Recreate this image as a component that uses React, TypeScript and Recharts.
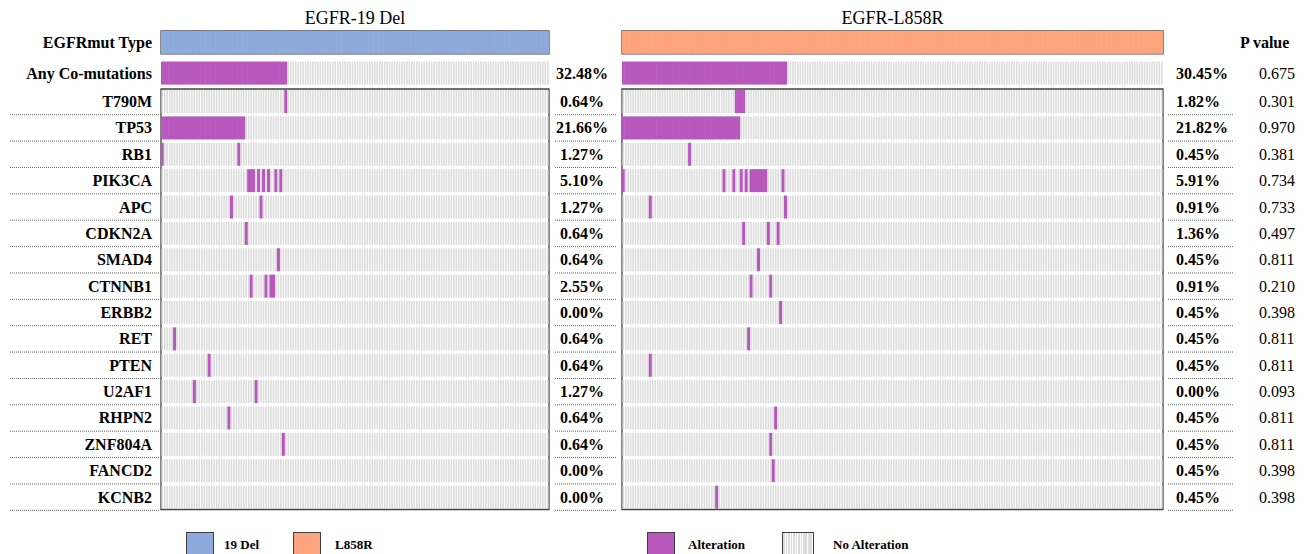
import { ReferenceArea, Scatter, ScatterChart, XAxis, YAxis } from "recharts";

const GENES = [
  "T790M",
  "TP53",
  "RB1",
  "PIK3CA",
  "APC",
  "CDKN2A",
  "SMAD4",
  "CTNNB1",
  "ERBB2",
  "RET",
  "PTEN",
  "U2AF1",
  "RHPN2",
  "ZNF804A",
  "FANCD2",
  "KCNB2",
];

const DEL19_COUNT = 157;
const L858R_COUNT = 220;

// altered samples per gene, as inclusive [first, last] runs in sample order
const DEL19_HITS: [number, number][][] = [
  [[50, 50]],
  [[0, 33]],
  [[0, 0], [31, 31]],
  [[35, 37], [39, 39], [41, 41], [43, 43], [46, 46], [48, 48]],
  [[28, 28], [40, 40]],
  [[34, 34]],
  [[47, 47]],
  [[36, 36], [42, 42], [44, 45]],
  [],
  [[5, 5]],
  [[19, 19]],
  [[13, 13], [38, 38]],
  [[27, 27]],
  [[49, 49]],
  [],
  [],
];

const L858R_HITS: [number, number][][] = [
  [[46, 49]],
  [[0, 47]],
  [[27, 27]],
  [[0, 0], [41, 41], [45, 45], [48, 48], [50, 50], [52, 58], [65, 65]],
  [[11, 11], [66, 66]],
  [[49, 49], [59, 59], [63, 63]],
  [[55, 55]],
  [[52, 52], [60, 60]],
  [[64, 64]],
  [[51, 51]],
  [[11, 11]],
  [],
  [[62, 62]],
  [[60, 60]],
  [[61, 61]],
  [[38, 38]],
];

// Any Co-mutations first, then one per gene
const P_VALUES = [
  "0.675", "0.301", "0.970", "0.381", "0.734", "0.733", "0.497", "0.811", "0.210",
  "0.398", "0.811", "0.811", "0.093", "0.811", "0.811", "0.398", "0.398",
];

const FONT = "'Liberation Serif', 'Times New Roman', serif";
const PURPLE = "#b858bd";
const GRAY = "#dcdcdc";
const DEL_BLUE = "#8eaadc";
const L858R_ORANGE = "#fda47c";
const BORDER = "#404040";

// y axis runs in gene-row units; the two header rows sit above row 0
const ROW_PX = 26.37;
const CELL_H = 23;
const TYPE_ROW = -2.246;
const ANY_ROW = -1.08;
const Y_DOMAIN: [number, number] = [-2.8, 15.5];
const ROWS = [TYPE_ROW, ANY_ROW, ...GENES.map((_, i) => i)];
const MARGIN_TOP = 27.7;
const MARGIN_BOTTOM = 43.7;

const LEFT_PLOT_W = 388;
const RIGHT_PLOT_W = 541;

type CellPoint = { x: number; y: number; kind: "type" | "alt" | "none" };

function expand(runs: [number, number][]) {
  const s = new Set<number>();
  runs.forEach(([a, b]) => {
    for (let i = a; i <= b; i++) s.add(i);
  });
  return s;
}

function buildCells(count: number, hits: [number, number][][]) {
  const geneSets = hits.map(expand);
  const any = new Set<number>();
  geneSets.forEach((s) => s.forEach((i) => any.add(i)));
  const cells: CellPoint[] = [];
  for (let i = 0; i < count; i++) {
    const x = i + 0.5;
    cells.push({ x, y: TYPE_ROW, kind: "type" });
    cells.push({ x, y: ANY_ROW, kind: any.has(i) ? "alt" : "none" });
    geneSets.forEach((s, g) =>
      cells.push({ x, y: g, kind: s.has(i) ? "alt" : "none" })
    );
  }
  const rates = [any.size, ...geneSets.map((s) => s.size)].map(
    (k) => `${((k / count) * 100).toFixed(2)}%`
  );
  return { cells, rates };
}

const del19 = buildCells(DEL19_COUNT, DEL19_HITS);
const l858r = buildCells(L858R_COUNT, L858R_HITS);

function cellShape(cellW: number, typeColor: string) {
  return (props: any) => {
    const { cx, cy, payload } = props;
    const top = cy - CELL_H / 2;
    if (payload.kind === "none") {
      return (
        <rect x={cx - cellW / 2 + 0.45} y={top} width={cellW - 0.9} height={CELL_H} fill={GRAY} />
      );
    }
    const fill = payload.kind === "type" ? typeColor : PURPLE;
    return (
      <rect x={cx - cellW / 2 - 0.3} y={top} width={cellW + 0.6} height={CELL_H} fill={fill} />
    );
  };
}

const dotted = { stroke: "#666", strokeWidth: 1, strokeDasharray: "1 1" };
const sepY = (y: number) => y + 13.2;

function GeneTick(props: any) {
  const { x, y, payload } = props;
  const row = ROWS.indexOf(payload.value);
  const label = row === 0 ? "EGFRmut Type" : row === 1 ? "Any Co-mutations" : GENES[row - 2];
  return (
    <g>
      <text x={x - 9} y={y} textAnchor="end" dominantBaseline="central" fontFamily={FONT} fontWeight="bold" fontSize={16} fill="#000">
        {label}
      </text>
      {row >= 2 && <line x1={x - 151} x2={x - 1} y1={sepY(y)} y2={sepY(y)} {...dotted} />}
    </g>
  );
}

function DelRateTick(props: any) {
  const { x, y, payload } = props;
  const row = ROWS.indexOf(payload.value);
  if (row < 1) return <g />;
  return (
    <g>
      <text x={x + 33} y={y} textAnchor="middle" dominantBaseline="central" fontFamily={FONT} fontWeight="bold" fontSize={16} fill="#000">
        {del19.rates[row - 1]}
      </text>
      {row >= 2 && <line x1={x + 6} x2={x + 68} y1={sepY(y)} y2={sepY(y)} {...dotted} />}
    </g>
  );
}

function L858RRateTick(props: any) {
  const { x, y, payload } = props;
  const row = ROWS.indexOf(payload.value);
  if (row === 0) {
    return (
      <text x={x + 77} y={y} dominantBaseline="central" fontFamily={FONT} fontWeight="bold" fontSize={16} fill="#000">
        P value
      </text>
    );
  }
  return (
    <g>
      <text x={x + 13} y={y} dominantBaseline="central" fontFamily={FONT} fontWeight="bold" fontSize={16} fill="#000">
        {l858r.rates[row - 1]}
      </text>
      <text x={x + 96} y={y} dominantBaseline="central" fontFamily={FONT} fontSize={16} fill="#000">
        {P_VALUES[row - 1]}
      </text>
      {row >= 2 && <line x1={x + 5} x2={x + 71} y1={sepY(y)} y2={sepY(y)} {...dotted} />}
    </g>
  );
}

const typeHalf = CELL_H / 2 / ROW_PX;
const BOX_TOP = -0.475;
const BOX_BOTTOM = 15.47;

function Title({ text, left, width }: { text: string; left: number; width: number }) {
  return (
    <div style={{ position: "absolute", left, width, top: 8, lineHeight: "20px", textAlign: "center", fontSize: 18, fontFamily: FONT, color: "#000" }}>
      {text}
    </div>
  );
}

function LegendItem({ left, swatch, label, textLeft }: { left: number; swatch: React.CSSProperties; label: string; textLeft: number }) {
  return (
    <>
      <div style={{ position: "absolute", left, top: 532, width: 28, height: 30, border: `1px solid ${BORDER}`, boxSizing: "border-box", ...swatch }} />
      <div style={{ position: "absolute", left: textLeft, top: 536, lineHeight: "18px", fontSize: 13, fontWeight: "bold", fontFamily: FONT, color: "#000" }}>
        {label}
      </div>
    </>
  );
}

export default function App() {
  return (
    <div style={{ position: "fixed", left: 0, top: 0, width: 1310, height: 554, background: "#fff", overflow: "hidden" }}>
      <Title text="EGFR-19 Del" left={161} width={LEFT_PLOT_W} />
      <Title text="EGFR-L858R" left={622} width={RIGHT_PLOT_W} />

      <div style={{ position: "absolute", left: 0, top: 0 }}>
        <ScatterChart width={622} height={554} margin={{ top: MARGIN_TOP, bottom: MARGIN_BOTTOM, left: 0, right: 0 }}>
          <XAxis type="number" dataKey="x" domain={[0, DEL19_COUNT]} hide allowDataOverflow />
          <YAxis yAxisId="genes" type="number" dataKey="y" domain={Y_DOMAIN} reversed allowDataOverflow ticks={ROWS} interval={0} width={161} axisLine={false} tickLine={false} tickSize={0} tickMargin={0} tick={<GeneTick />} />
          <YAxis yAxisId="rate" orientation="right" type="number" domain={Y_DOMAIN} reversed allowDataOverflow ticks={ROWS} interval={0} width={73} axisLine={false} tickLine={false} tickSize={0} tickMargin={0} tick={<DelRateTick />} />
          <Scatter yAxisId="genes" data={del19.cells} shape={cellShape(LEFT_PLOT_W / DEL19_COUNT, DEL_BLUE)} isAnimationActive={false} />
          <ReferenceArea yAxisId="genes" x1={0} x2={DEL19_COUNT} y1={TYPE_ROW - typeHalf} y2={TYPE_ROW + typeHalf} fill="none" stroke={BORDER} strokeWidth={1.2} />
          <ReferenceArea yAxisId="genes" x1={0} x2={DEL19_COUNT} y1={BOX_TOP} y2={BOX_BOTTOM} fill="none" stroke={BORDER} strokeWidth={1.3} />
        </ScatterChart>
      </div>

      <div style={{ position: "absolute", left: 620, top: 0 }}>
        <ScatterChart width={690} height={554} margin={{ top: MARGIN_TOP, bottom: MARGIN_BOTTOM, left: 2, right: 0 }}>
          <XAxis type="number" dataKey="x" domain={[0, L858R_COUNT]} hide allowDataOverflow />
          <YAxis yAxisId="rate" orientation="right" type="number" dataKey="y" domain={Y_DOMAIN} reversed allowDataOverflow ticks={ROWS} interval={0} width={147} axisLine={false} tickLine={false} tickSize={0} tickMargin={0} tick={<L858RRateTick />} />
          <Scatter yAxisId="rate" data={l858r.cells} shape={cellShape(RIGHT_PLOT_W / L858R_COUNT, L858R_ORANGE)} isAnimationActive={false} />
          <ReferenceArea yAxisId="rate" x1={0} x2={L858R_COUNT} y1={TYPE_ROW - typeHalf} y2={TYPE_ROW + typeHalf} fill="none" stroke={BORDER} strokeWidth={1.2} />
          <ReferenceArea yAxisId="rate" x1={0} x2={L858R_COUNT} y1={BOX_TOP} y2={BOX_BOTTOM} fill="none" stroke={BORDER} strokeWidth={1.3} />
        </ScatterChart>
      </div>

      <LegendItem left={186} textLeft={224} label="19 Del" swatch={{ background: DEL_BLUE }} />
      <LegendItem left={293} textLeft={335} label="L858R" swatch={{ background: L858R_ORANGE }} />
      <LegendItem left={647} textLeft={688} label="Alteration" swatch={{ background: PURPLE }} />
      <LegendItem
        left={782}
        textLeft={833}
        label="No Alteration"
        swatch={{ width: 32, background: `repeating-linear-gradient(90deg, ${GRAY} 0 1.6px, #fff 1.6px 2.5px)` }}
      />
    </div>
  );
}
